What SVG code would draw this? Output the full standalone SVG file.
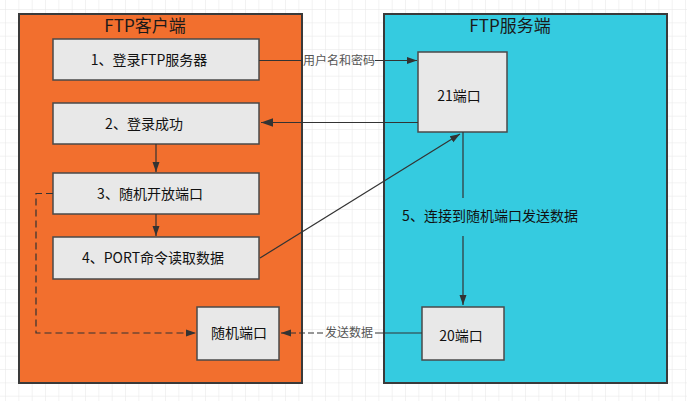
<svg xmlns="http://www.w3.org/2000/svg" width="687" height="401" viewBox="0 0 687 401">
<defs>
<pattern id="grid" width="13.333" height="13.333" patternUnits="userSpaceOnUse" x="6" y="10">
<path d="M13.333 0V13.333M0 13.333H13.333" fill="none" stroke="#e6e6e6" stroke-width="1"/>
</pattern>
<marker id="arr" viewBox="0 0 10 10" refX="10" refY="5" markerWidth="10" markerHeight="10" markerUnits="userSpaceOnUse" orient="auto">
<path d="M0 1.5L10 5L0 8.5Z" fill="#333"/>
</marker>
<marker id="arrL" viewBox="0 0 10 10" refX="10" refY="5" markerWidth="12" markerHeight="12" markerUnits="userSpaceOnUse" orient="auto">
<path d="M0 1.5L10 5L0 8.5Z" fill="#333"/>
</marker>
</defs>
<style>
.cont{stroke:#3a3a3a;stroke-width:2}
.box{fill:#e8e8e8;stroke:#4a4a4a;stroke-width:1.5}
.t{font-family:"Noto Sans CJK SC","Liberation Sans",sans-serif;font-size:14px;fill:#111;text-anchor:middle}
.title{font-family:"Noto Sans CJK SC","Liberation Sans",sans-serif;font-size:17px;fill:#1a1a1a;text-anchor:middle}
.lbl{font-family:"Noto Sans CJK SC","Liberation Sans",sans-serif;font-size:12px;fill:#555;text-anchor:middle}
.ln{fill:none;stroke:#333;stroke-width:1.2}
</style>
<rect width="687" height="401" fill="#fff"/>
<rect width="687" height="401" fill="url(#grid)"/>
<g id="client">
<rect class="cont" x="19" y="14" width="283" height="369" fill="#f26f2e"/>
<text class="title" x="145" y="32">FTP客户端</text>
</g>
<g id="server">
<rect class="cont" x="384" y="14" width="283" height="369" fill="#35cbe0"/>
<text class="title" x="510" y="32">FTP服务端</text>
</g>
<g id="step1"><rect class="box" x="53" y="39" width="206" height="41"/><text class="t" x="149" y="65">1、登录FTP服务器</text></g>
<g id="step2"><rect class="box" x="53" y="103" width="206" height="41"/><text class="t" x="144" y="129">2、登录成功</text></g>
<g id="step3"><rect class="box" x="53" y="173" width="206" height="41"/><text class="t" x="150" y="199">3、随机开放端口</text></g>
<g id="step4"><rect class="box" x="53" y="237" width="206" height="42"/><text class="t" x="153" y="263">4、PORT命令读取数据</text></g>
<g id="randport"><rect class="box" x="197" y="307" width="82" height="53"/><text class="t" x="239" y="338">随机端口</text></g>
<g id="port21"><rect class="box" x="418" y="52" width="89" height="80"/><text class="t" x="459" y="101">21端口</text></g>
<g id="port20"><rect class="box" x="422" y="307" width="82" height="53"/><text class="t" x="461" y="341">20端口</text></g>
<g id="connectors">
<path class="ln" d="M259 60.5H302"/>
<path class="ln" d="M375 60.5H417" marker-end="url(#arr)"/>
<text class="lbl" x="339" y="65">用户名和密码</text>
<path class="ln" d="M418 122.5H261" stroke-width="2" marker-end="url(#arrL)"/>
<path class="ln" d="M156 144V172" marker-end="url(#arr)"/>
<path class="ln" d="M156 214V236" marker-end="url(#arr)"/>
<path class="ln" d="M53 193.5H36V333H196" stroke-dasharray="7 4" marker-end="url(#arr)"/>
<path class="ln" d="M260 258L460 134" marker-end="url(#arr)"/>
<path class="ln" d="M463 132V198"/>
<path class="ln" d="M463 236V305" stroke-width="1.5" marker-end="url(#arr)"/>
<text class="t" x="490" y="221">5、连接到随机端口发送数据</text>
<path class="ln" d="M422 333H375" stroke-width="1.8"/>
<path class="ln" d="M323 333H281" stroke-dasharray="6 3" marker-end="url(#arr)"/>
<text class="lbl" x="349" y="337">发送数据</text>
</g>
</svg>
